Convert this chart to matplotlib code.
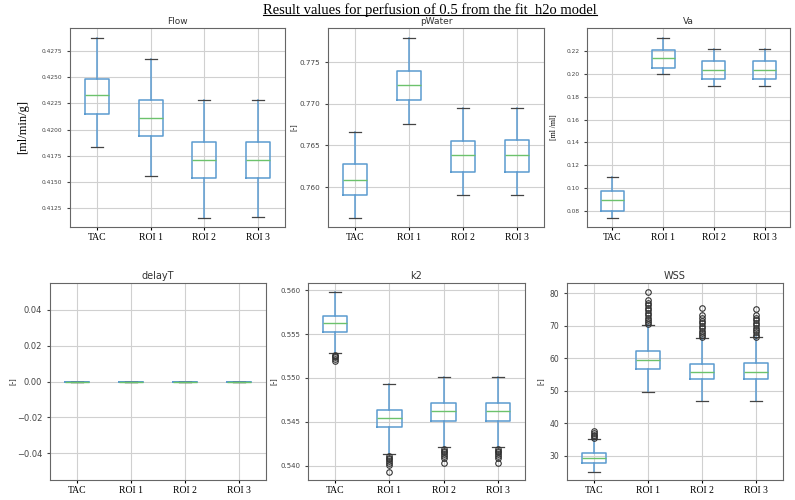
import matplotlib
matplotlib.use("Agg")
import matplotlib.pyplot as plt

# categories
labels = ["TAC", "ROI 1", "ROI 2", "ROI 3"]

# box stats: (whislo, q1, med, q3, whishi)
flow = [(0.4183, 0.4215, 0.4233, 0.4249, 0.4288),
        (0.4155, 0.4194, 0.4211, 0.4228, 0.4268),
        (0.4115, 0.4153, 0.4171, 0.4188, 0.4228),
        (0.4116, 0.4153, 0.4171, 0.4188, 0.4228)]
pwater = [(0.7563, 0.7591, 0.7608, 0.7628, 0.7666),
          (0.7676, 0.7705, 0.7722, 0.7739, 0.7779),
          (0.7591, 0.7618, 0.7638, 0.7655, 0.7695),
          (0.7591, 0.7618, 0.7638, 0.7656, 0.7695)]
va = [(0.0742, 0.0806, 0.0899, 0.0978, 0.1103),
      (0.1996, 0.2051, 0.2136, 0.2203, 0.2311),
      (0.1894, 0.1955, 0.2034, 0.2107, 0.2212),
      (0.1894, 0.1955, 0.2034, 0.2110, 0.2212)]
delayt = [(0.0, 0.0, 0.0, 0.0, 0.0)] * 4
k2 = [(0.5528, 0.5553, 0.5563, 0.5571, 0.5598),
      (0.5413, 0.5444, 0.5454, 0.5464, 0.5493),
      (0.5421, 0.5451, 0.5462, 0.5472, 0.5501),
      (0.5421, 0.5451, 0.5462, 0.5472, 0.5501)]
wss = [(25.2, 27.7, 29.4, 30.8, 35.1),
       (49.7, 56.8, 59.3, 62.2, 70.2),
       (46.9, 53.5, 55.8, 58.3, 66.2),
       (46.9, 53.5, 55.8, 58.5, 66.4)]

# outliers
k2_fliers = [[0.5526, 0.5525, 0.5524, 0.5522, 0.5519],
             [0.5411, 0.5409, 0.5407, 0.5405, 0.5403, 0.5401, 0.5393],
             [0.5419, 0.5417, 0.5415, 0.5413, 0.5411, 0.5409, 0.5403],
             [0.5419, 0.5417, 0.5415, 0.5413, 0.5411, 0.5409, 0.5403]]
wss_fliers = [[35.5, 36.0, 36.5, 37.0, 37.5],
              [70.6, 71.2, 71.8, 72.5, 73.2, 74.0, 74.8, 75.5, 76.3, 77.0, 77.8, 80.3],
              [66.5, 67.1, 67.8, 68.5, 69.2, 70.0, 70.8, 71.5, 72.3, 73.2, 75.3],
              [66.6, 67.2, 67.9, 68.6, 69.3, 70.1, 70.9, 71.6, 72.4, 73.3, 75.0]]

W, H = 795, 500


def rect(l, t, r, b):
    return [l / W, 1 - b / H, (r - l) / W, (b - t) / H]


def draw(ax, stats, title, ylabel, fliers=None, ylbl_size=5.5, tick_size=5,
         title_size=6.5, lab_x=-0.14):
    bx = []
    for i, s in enumerate(stats):
        bx.append(dict(whislo=s[0], q1=s[1], med=s[2], q3=s[3], whishi=s[4],
                       fliers=fliers[i] if fliers else [], label=labels[i]))
    ax.bxp(bx, positions=[1, 2, 3, 4], widths=0.45, patch_artist=False,
           boxprops=dict(color="#5b9bd0", linewidth=1.1),
           whiskerprops=dict(color="#5b9bd0", linewidth=1.1),
           capprops=dict(color="#444444", linewidth=0.9),
           medianprops=dict(color="#6cc26c", linewidth=1.0),
           flierprops=dict(marker="o", markerfacecolor="none",
                           markeredgecolor="#333333", markersize=4,
                           markeredgewidth=0.8))
    ax.grid(True, color="#d0d0d0", linewidth=0.8)
    ax.set_axisbelow(True)
    ax.set_title(title, fontsize=title_size, color="#333333", pad=3)
    ax.set_ylabel(ylabel, family="Liberation Serif", fontsize=ylbl_size)
    ax.yaxis.set_label_coords(lab_x, 0.5)
    ax.tick_params(axis="y", labelsize=tick_size, colors="#444444", length=2)
    ax.tick_params(axis="x", length=2, pad=2)
    for lab in ax.get_xticklabels():
        lab.set_family("Liberation Serif")
        lab.set_fontsize(7)
    for sp in ax.spines.values():
        sp.set_color("#666666")


fig = plt.figure(figsize=(7.95, 5), dpi=100)

ax = fig.add_axes(rect(70, 28, 285, 227))
draw(ax, flow, "Flow", "[ml/min/g]", ylbl_size=9, tick_size=4.2, lab_x=-0.19)
ax.set_ylim(0.41064, 0.42975)
ax.set_yticks([0.4125, 0.4150, 0.4175, 0.4200, 0.4225, 0.4250, 0.4275])

ax = fig.add_axes(rect(328, 28, 544, 227))
draw(ax, pwater, "pWater", "[-]", tick_size=5.2, lab_x=-0.135)
ax.set_ylim(0.7552, 0.7791)
ax.set_yticks([0.760, 0.765, 0.770, 0.775])

ax = fig.add_axes(rect(587, 28, 790, 227))
draw(ax, va, "Va", "[ml /ml]", tick_size=4.2, lab_x=-0.145)
ax.set_ylim(0.0663, 0.2398)

ax = fig.add_axes(rect(50, 283, 266, 480))
draw(ax, delayt, "delayT", "[-]", tick_size=6, title_size=7, lab_x=-0.15)
ax.set_ylim(-0.055, 0.055)

ax = fig.add_axes(rect(308, 283, 525, 480))
draw(ax, k2, "k2", "[-]", fliers=k2_fliers, tick_size=5, title_size=7, lab_x=-0.135)
ax.set_ylim(0.53836, 0.56084)
ax.set_yticks([0.540, 0.545, 0.550, 0.555, 0.560])

ax = fig.add_axes(rect(567, 283, 783, 480))
draw(ax, wss, "WSS", "[-]", fliers=wss_fliers, tick_size=5.5, title_size=7, lab_x=-0.1)
ax.set_ylim(22.6, 83.1)

t = fig.text(430 / W, 1 - 10 / H, "Result values for perfusion of 0.5 from the fit_h2o model",
             ha="center", va="center", family="Liberation Serif", fontsize=10.5)
fig.canvas.draw()
bb = t.get_window_extent().transformed(fig.transFigure.inverted())
fig.add_artist(plt.Line2D([bb.x0, bb.x1], [bb.y0 + 0.003, bb.y0 + 0.003],
                          color="black", linewidth=0.8))

fig.savefig("out.png", dpi=100)
